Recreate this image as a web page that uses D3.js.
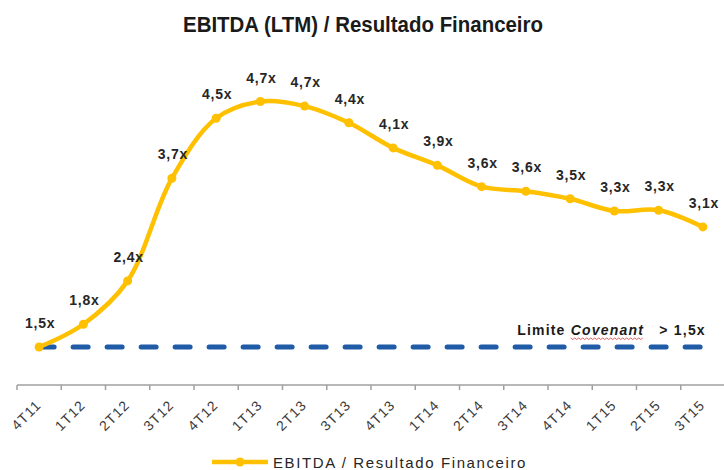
<!DOCTYPE html>
<html>
<head>
<meta charset="utf-8">
<script src="https://cdn.jsdelivr.net/npm/d3@7"></script>
<style>
  body { margin: 0; background: #fff; }
  svg { display: block; font-family: Arial, "Liberation Sans", sans-serif; }
</style>
</head>
<body>
<svg id="chart" width="724" height="470"></svg>
<script>
// quarters on the x axis
const quarters = ["4T11","1T12","2T12","3T12","4T12","1T13","2T13","3T13","4T13",
                  "1T14","2T14","3T14","4T14","1T15","2T15","3T15"];
// EBITDA (LTM) / Resultado Financeiro
const ratio = [1.50, 1.80, 2.37, 3.72, 4.51, 4.73, 4.67, 4.45, 4.12,
               3.89, 3.61, 3.55, 3.45, 3.29, 3.30, 3.08];
// the labels printed above each point
const ratioLabels = ["1,5x","1,8x","2,4x","3,7x","4,5x","4,7x","4,7x","4,4x","4,1x",
                     "3,9x","3,6x","3,6x","3,5x","3,3x","3,3x","3,1x"];
const covenant = 1.5;

const gold = "#ffc000";
const blue = "#1f5ba6";

const svg = d3.select("#chart");

const x = d3.scaleBand().domain(quarters).range([17, 725]).padding(0);
const y = d3.scaleLinear().domain([1, 5]).range([385, 81]);
const cx = d => x(d) + x.bandwidth() / 2;

// title
svg.append("text")
  .attr("x", 363).attr("y", 32)
  .attr("text-anchor", "middle")
  .attr("font-family", "'Liberation Sans Narrow', 'Arial Narrow', Arial, sans-serif")
  .attr("font-weight", "bold")
  .attr("font-size", "22.5px")
  .attr("textLength", 360)
  .attr("lengthAdjust", "spacingAndGlyphs")
  .attr("fill", "#1a1a1a")
  .text("EBITDA (LTM) / Resultado Financeiro");

// x axis: ticks between categories
const axis = svg.append("g");
axis.append("line")
  .attr("x1", 17).attr("x2", 724)
  .attr("y1", y(1)).attr("y2", y(1))
  .attr("stroke", "#a0a0a0").attr("stroke-width", 1.5);
axis.selectAll("line.tick")
  .data(quarters).enter().append("line")
  .attr("class", "tick")
  .attr("x1", d => x(d)).attr("x2", d => x(d))
  .attr("y1", y(1)).attr("y2", y(1) + 5)
  .attr("stroke", "#a0a0a0").attr("stroke-width", 1.5);
axis.selectAll("text")
  .data(quarters).enter().append("text")
  .attr("text-anchor", "end")
  .attr("transform", d => `translate(${cx(d) + 3},${y(1) + 21}) rotate(-45)`)
  .attr("font-size", "14px")
  .attr("letter-spacing", "1.1px")
  .attr("fill", "#3a3a3a")
  .text(d => d);

// covenant line
svg.append("line")
  .attr("x1", cx(quarters[0])).attr("x2", cx(quarters[quarters.length - 1]))
  .attr("y1", y(covenant)).attr("y2", y(covenant))
  .attr("stroke", blue).attr("stroke-width", 5)
  .attr("stroke-linecap", "round")
  .attr("stroke-dasharray", "15,19");

const note = svg.append("text")
  .attr("x", cx(quarters[quarters.length - 1]) + 3)
  .attr("y", y(covenant) - 12)
  .attr("text-anchor", "end")
  .attr("font-size", "14px")
  .attr("font-weight", "bold")
  .attr("letter-spacing", "1.2px")
  .attr("fill", "#1a1a1a")
  .attr("xml:space", "preserve");
note.append("tspan").text("Limite ");
note.append("tspan").attr("font-style", "italic").text("Covenant");
note.append("tspan").text("   > 1,5x");

// spell-check squiggle under "Covenant"
const start = note.node().getStartPositionOfChar(7);
const end = note.node().getEndPositionOfChar(14);
const squiggle = d3.range(start.x, end.x, 2).map((px, i) => [px, start.y + 3 + (i % 2 ? 1.5 : 0)]);
svg.append("path")
  .attr("d", d3.line()(squiggle))
  .attr("fill", "none").attr("stroke", "#e03030").attr("stroke-width", 0.8);

// series
const pts = quarters.map((q, i) => ({ q, v: ratio[i], label: ratioLabels[i] }));

svg.append("path")
  .datum(pts)
  .attr("fill", "none")
  .attr("stroke", gold)
  .attr("stroke-width", 4.5)
  .attr("stroke-linecap", "round")
  .attr("d", d3.line().x(d => cx(d.q)).y(d => y(d.v)).curve(d3.curveCatmullRom.alpha(0.5)));

svg.selectAll("circle.pt")
  .data(pts).enter().append("circle")
  .attr("class", "pt")
  .attr("cx", d => cx(d.q)).attr("cy", d => y(d.v))
  .attr("r", 4.5)
  .attr("fill", gold);

svg.selectAll("text.lbl")
  .data(pts).enter().append("text")
  .attr("class", "lbl")
  .attr("x", d => cx(d.q) + 1)
  .attr("y", d => y(d.v) - 19)
  .attr("text-anchor", "middle")
  .attr("font-size", "14px")
  .attr("font-weight", "bold")
  .attr("letter-spacing", "0.8px")
  .attr("fill", "#262626")
  .text(d => d.label);

// legend
const lg = svg.append("g").attr("transform", "translate(212,462)");
lg.append("line").attr("x1", 0).attr("x2", 56).attr("y1", 0).attr("y2", 0)
  .attr("stroke", gold).attr("stroke-width", 4.5);
lg.append("circle").attr("cx", 28).attr("cy", 0).attr("r", 4.5).attr("fill", gold);
lg.append("text")
  .attr("x", 61).attr("y", 5.5)
  .attr("font-size", "15px")
  .attr("letter-spacing", "1.6px")
  .attr("fill", "#262626")
  .text("EBITDA / Resultado Financeiro");
</script>
</body>
</html>
